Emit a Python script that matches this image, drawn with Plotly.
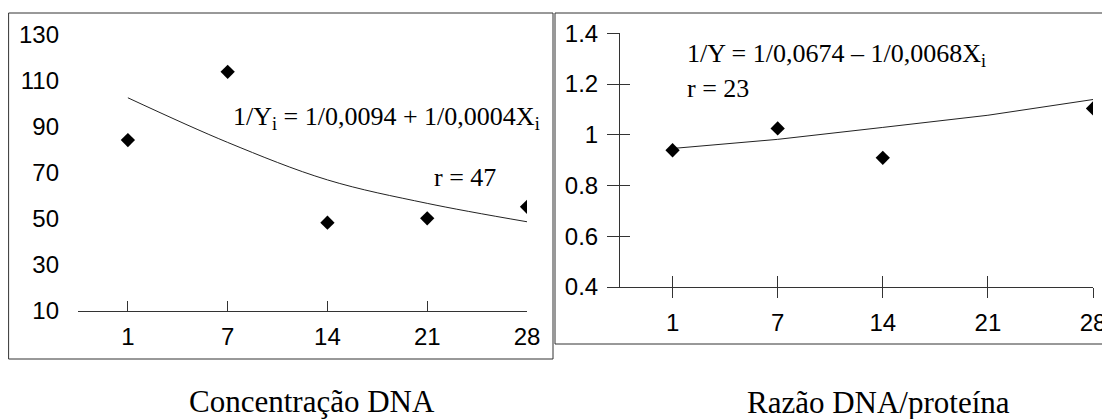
import plotly.graph_objects as go

OFF = 8  # page offset of the plot in the browser window
W, H = 1110 - OFF, 419 - OFF

# ---- data ----
days = ["1", "7", "14", "21", "28"]
day_pos = [0, 1, 2, 3, 4]

dna_conc = [84.3, 114.0, 48.4, 50.3, 55.3]
dna_fit = [102.7, 83.3, 67.0, 56.8, 48.8]

ratio_pos = [0, 1, 2, 4]
ratio = [0.939, 1.025, 0.909, 1.104]
ratio_fit = [0.946, 0.982, 1.029, 1.077, 1.139]

left_yticks = [10, 30, 50, 70, 90, 110, 130]
right_yticks = [0.4, 0.6, 0.8, 1.0, 1.2, 1.4]
right_yticklabels = ["0.4", "0.6", "0.8", "1", "1.2", "1.4"]

eq_left = "1/Y<sub>i</sub> = 1/0,0094 + 1/0,0004X<sub>i</sub>"
r_left = "r = 47"
eq_right = "1/Y = 1/0,0674 \u2013 1/0,0068X<sub>i</sub>"
r_right = "r = 23"
title_left = "Concentração DNA"
title_right = "Razão DNA/proteína"


def px(x):
    return (x - OFF) / W


def py(y):
    return 1 - (y - OFF) / H


LINE = "#333333"
SANS = "Liberation Sans, Arial, sans-serif"
SERIF = "Liberation Serif, Times New Roman, serif"

fig = go.Figure()

# left panel
fig.add_trace(go.Scatter(x=day_pos, y=dna_fit, mode="lines", line=dict(color="#222", width=1, shape="spline"),
                         xaxis="x", yaxis="y", hoverinfo="skip"))
fig.add_trace(go.Scatter(x=day_pos, y=dna_conc, mode="markers",
                         marker=dict(symbol="diamond", size=11, color="black"), xaxis="x", yaxis="y"))

# right panel
fig.add_trace(go.Scatter(x=day_pos, y=ratio_fit, mode="lines", line=dict(color="#222", width=1),
                         xaxis="x2", yaxis="y2", hoverinfo="skip"))
fig.add_trace(go.Scatter(x=ratio_pos, y=ratio, mode="markers",
                         marker=dict(symbol="diamond", size=11, color="black"), xaxis="x2", yaxis="y2"))
# dummy trace for crossing-tick overlay axes
fig.add_trace(go.Scatter(x=[None], y=[None], mode="markers", xaxis="x3", yaxis="y3", showlegend=False))

common = dict(showgrid=False, zeroline=False, linecolor=LINE, tickcolor=LINE, linewidth=1,
              automargin=False, tickfont=dict(family=SANS, size=24, color="black"))

fig.update_layout(
    width=W, height=H, autosize=False,
    margin=dict(l=0, r=0, t=0, b=0, pad=0, autoexpand=False),
    paper_bgcolor="white", plot_bgcolor="white",
    showlegend=False,
    xaxis=dict(domain=[px(78), px(527)], range=[-0.5, 4], anchor="y",
               tickmode="array", tickvals=day_pos, ticktext=days,
               ticks="inside", ticklen=10, showline=True, ticklabelstandoff=4, **common),
    yaxis=dict(domain=[py(311), py(35)], range=[10, 130], anchor="x",
               tickmode="array", tickvals=left_yticks,
               ticks="", showline=False, ticklabelstandoff=18, **common),
    xaxis2=dict(domain=[px(620), px(1093)], range=[-0.5, 4], anchor="y2",
                tickmode="array", tickvals=day_pos, ticktext=days,
                ticks="outside", ticklen=10, showline=True, ticklabelstandoff=4, **common),
    yaxis2=dict(domain=[py(287), py(33.3)], range=[0.4, 1.4], anchor="x2",
                tickmode="array", tickvals=right_yticks, ticktext=right_yticklabels,
                ticks="outside", ticklen=12, showline=True, ticklabelstandoff=4, **common),
    xaxis3=dict(overlaying="x2", anchor="y2", range=[-0.5, 4], tickmode="array", tickvals=day_pos,
                ticks="inside", ticklen=11, showline=False, showticklabels=False, **common),
    yaxis3=dict(overlaying="y2", anchor="x2", side="left", range=[0.4, 1.4], tickmode="array",
                tickvals=right_yticks, ticks="inside", ticklen=10, showline=False,
                showticklabels=False, **common),
)

# frames
fig.add_shape(type="rect", xref="paper", yref="paper", x0=px(8.6), x1=px(553), y0=py(359), y1=py(13),
              line=dict(color=LINE, width=1), layer="below")
fig.add_shape(type="rect", xref="paper", yref="paper", x0=px(555), x1=px(1125), y0=py(344), y1=py(13),
              line=dict(color=LINE, width=1), layer="below")

ann_font = dict(family=SERIF, size=26, color="black")
fig.add_annotation(text=eq_left, xref="paper", yref="paper", x=px(231), y=py(118),
                   xanchor="left", yanchor="middle", showarrow=False, font=ann_font)
fig.add_annotation(text=r_left, xref="paper", yref="paper", x=px(432), y=py(178),
                   xanchor="left", yanchor="middle", showarrow=False, font=ann_font)
fig.add_annotation(text=eq_right, xref="paper", yref="paper", x=px(685), y=py(55),
                   xanchor="left", yanchor="middle", showarrow=False, font=ann_font)
fig.add_annotation(text=r_right, xref="paper", yref="paper", x=px(685), y=py(88),
                   xanchor="left", yanchor="middle", showarrow=False, font=ann_font)

title_font = dict(family=SERIF, size=31, color="black")
fig.add_annotation(text=title_left, xref="paper", yref="paper", x=px(312), y=py(401),
                   xanchor="center", yanchor="middle", showarrow=False, font=title_font)
fig.add_annotation(text=title_right, xref="paper", yref="paper", x=px(878), y=py(402),
                   xanchor="center", yanchor="middle", showarrow=False, font=title_font)

fig.write_html(
    "out.html",
    post_script="document.documentElement.style.overflow='hidden';document.body.style.overflow='hidden';",
)
